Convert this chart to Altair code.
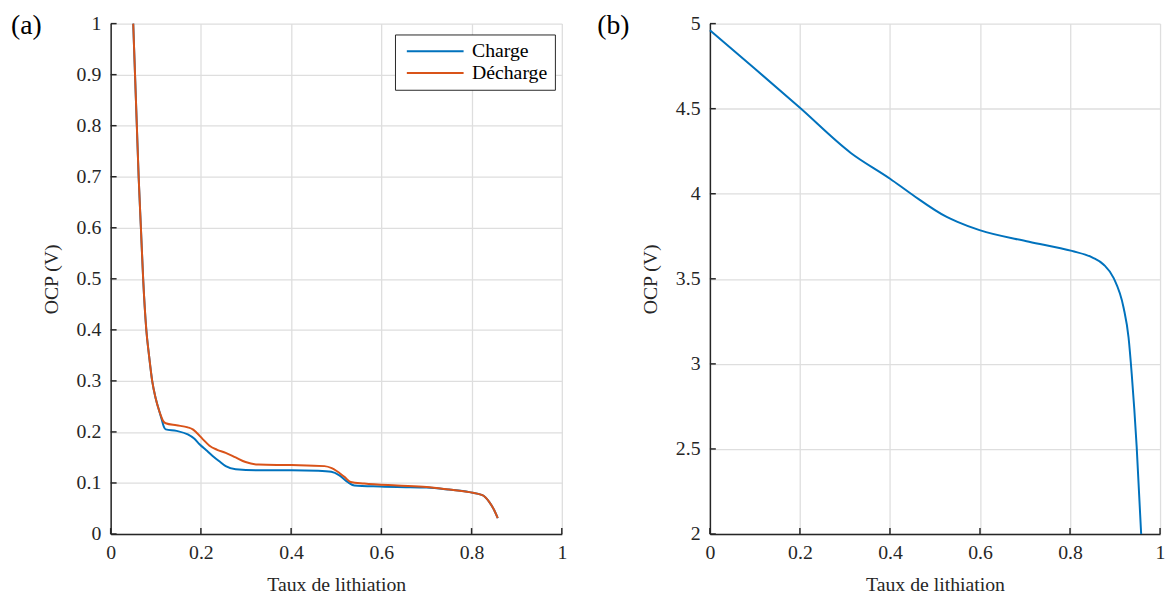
import altair as alt
import pandas as pd

FONT = "Liberation Serif"
INK = "#262626"

# ---------------- Panel (a): graphite-like electrode OCP ----------------
charge_x = [0.050, 0.054, 0.058, 0.062, 0.067, 0.072, 0.079, 0.085, 0.092, 0.100, 0.108, 0.113,
            0.118, 0.122, 0.146, 0.171, 0.185, 0.197, 0.212, 0.226, 0.240, 0.255, 0.277, 0.328,
            0.401, 0.460, 0.489, 0.507, 0.525, 0.540, 0.598, 0.635, 0.700, 0.750, 0.795, 0.824,
            0.839, 0.850, 0.858]
charge_y = [1.000, 0.900, 0.800, 0.700, 0.600, 0.500, 0.400, 0.350, 0.300, 0.265, 0.240, 0.225,
            0.210, 0.205, 0.202, 0.195, 0.187, 0.176, 0.164, 0.153, 0.143, 0.133, 0.127, 0.125,
            0.125, 0.124, 0.122, 0.115, 0.102, 0.095, 0.093, 0.092, 0.091, 0.087, 0.082, 0.076,
            0.063, 0.047, 0.031]

decharge_x = [0.050, 0.054, 0.058, 0.062, 0.067, 0.072, 0.079, 0.085, 0.092, 0.100, 0.108, 0.113,
              0.116, 0.122, 0.146, 0.171, 0.182, 0.190, 0.204, 0.219, 0.236, 0.255, 0.277, 0.299,
              0.328, 0.401, 0.474, 0.490, 0.500, 0.518, 0.532, 0.562, 0.635, 0.700, 0.750, 0.795,
              0.824, 0.839, 0.850, 0.858]
decharge_y = [1.000, 0.900, 0.800, 0.700, 0.600, 0.500, 0.400, 0.350, 0.300, 0.265, 0.240, 0.228,
              0.222, 0.217, 0.213, 0.209, 0.205, 0.199, 0.186, 0.173, 0.165, 0.159, 0.150, 0.141,
              0.136, 0.135, 0.133, 0.129, 0.124, 0.112, 0.102, 0.099, 0.095, 0.092, 0.087, 0.082,
              0.076, 0.063, 0.047, 0.031]

series_names = ["Charge", "Décharge"]
series_colors = ["#0072BD", "#D95319"]

a_x_ticks = [0, 0.2, 0.4, 0.6, 0.8, 1]
a_y_ticks = [0, 0.1, 0.2, 0.3, 0.4, 0.5, 0.6, 0.7, 0.8, 0.9, 1]

# ---------------- Panel (b): positive electrode OCP ----------------
b_x = [0.000, 0.100, 0.200, 0.313, 0.401, 0.450, 0.526, 0.550, 0.599, 0.709, 0.804, 0.850,
       0.875, 0.897, 0.919, 0.930, 0.937, 0.948, 0.958]
b_y = [4.961, 4.735, 4.505, 4.240, 4.087, 3.994, 3.864, 3.835, 3.786, 3.718, 3.664, 3.625,
       3.583, 3.504, 3.330, 3.155, 2.942, 2.515, 2.000]

b_x_ticks = [0, 0.2, 0.4, 0.6, 0.8, 1]
b_y_ticks = [2, 2.5, 3, 3.5, 4, 4.5, 5]

W_A, W_B, H = 457, 456, 517
TICK_LEN = 6


def axis(values, title, orient):
    pad = 9 if orient == "x" else 10
    tpad = 12 if orient == "x" else 15
    return alt.Axis(values=values, format="~g", title=title, grid=True, tickSize=0,
                    labelFlush=False, labelOverlap=False, labelFont=FONT, labelFontSize=20,
                    labelColor=INK, titleFont=FONT, titleFontSize=20, titleFontWeight="normal",
                    titleColor=INK, labelPadding=pad, titlePadding=tpad)


def panel(df, xvals, yvals, ydom, width, label, color_enc, color_value=None):
    X = alt.X("x:Q", scale=alt.Scale(domain=[0, 1], nice=False, zero=False),
              axis=axis(xvals, "Taux de lithiation", "x"))
    Y = alt.Y("y:Q", scale=alt.Scale(domain=ydom, nice=False, zero=False),
              axis=axis(yvals, "OCP (V)", "y"))
    if color_enc is not None:
        line = alt.Chart(df).mark_line(strokeWidth=2, interpolate="monotone").encode(
            x=X, y=Y, color=color_enc)
    else:
        line = alt.Chart(df).mark_line(strokeWidth=2, interpolate="monotone",
                                       color=color_value).encode(x=X, y=Y)
    xt = alt.Chart(pd.DataFrame({"x": xvals})).mark_rule(color=INK, strokeWidth=1.5).encode(
        x=X, y=alt.value(H), y2=alt.value(H - TICK_LEN))
    yt = alt.Chart(pd.DataFrame({"y": yvals})).mark_rule(color=INK, strokeWidth=1.5).encode(
        y=Y, x=alt.value(0), x2=alt.value(TICK_LEN))
    lab = alt.Chart(pd.DataFrame({"t": [label["text"]]})).mark_text(
        font=FONT, fontSize=28, align="left", baseline="middle", color="black").encode(
        x=alt.value(label["dx"]), y=alt.value(3), text="t:N")
    return alt.layer(line, xt, yt, lab).properties(width=width, height=H)


df_a = pd.DataFrame({
    "x": charge_x + decharge_x,
    "y": charge_y + decharge_y,
    "s": [series_names[0]] * len(charge_x) + [series_names[1]] * len(decharge_x),
})
color_a = alt.Color("s:N", scale=alt.Scale(domain=series_names, range=series_colors),
                    legend=alt.Legend(orient="none", legendX=288, legendY=11, title=None,
                                      strokeColor=INK, fillColor="white", padding=7,
                                      symbolType="M-1,0H10.5", symbolSize=100,
                                      symbolStrokeWidth=2, labelFont=FONT, labelFontSize=20,
                                      labelColor="black", rowPadding=2, labelOffset=51,
                                      cornerRadius=0))
left = panel(df_a, a_x_ticks, a_y_ticks, [0, 1], W_A, {"text": "(a)", "dx": -101}, color_a)

df_b = pd.DataFrame({"x": b_x, "y": b_y})
right = panel(df_b, b_x_ticks, b_y_ticks, [2, 5], W_B, {"text": "(b)", "dx": -114}, None,
              color_value="#0072BD")

chart = alt.hconcat(left, right, spacing=31).resolve_scale(
    x="independent", y="independent").resolve_legend(color="independent").properties(
    padding={"left": 3, "top": 1, "right": 0, "bottom": 0}
).configure_view(stroke=None).configure_axis(
    domainColor=INK, domainWidth=1.5, gridColor="#dedede", gridWidth=1.3,
)

chart.save("out.html", embed_options={"renderer": "svg", "actions": False})
